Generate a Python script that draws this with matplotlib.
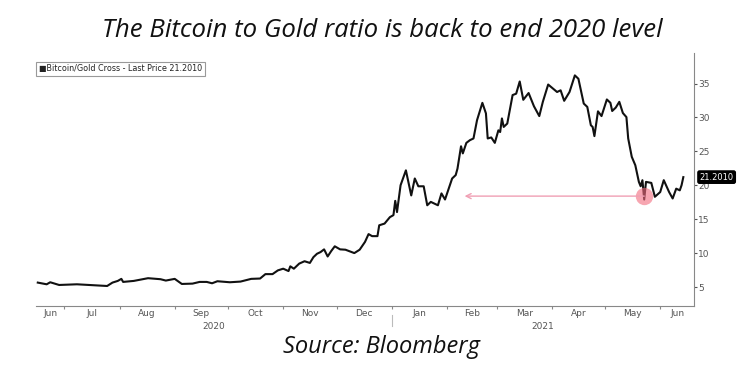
import matplotlib
matplotlib.use("Agg")
import matplotlib.pyplot as plt
import matplotlib.dates as mdates
import matplotlib.transforms as mtransforms
import numpy as np
import pandas as pd

# ---------------- data ----------------
dates = [
    "2020-06-16", "2020-06-21", "2020-06-23", "2020-06-28", "2020-07-08", "2020-07-25",
    "2020-07-28", "2020-07-31", "2020-08-02", "2020-08-03", "2020-08-09", "2020-08-17",
    "2020-08-24", "2020-08-27", "2020-09-01", "2020-09-05", "2020-09-11", "2020-09-15",
    "2020-09-19", "2020-09-22", "2020-09-25", "2020-10-02", "2020-10-08", "2020-10-14",
    "2020-10-19", "2020-10-22", "2020-10-26", "2020-10-29", "2020-11-01", "2020-11-04",
    "2020-11-05", "2020-11-07", "2020-11-10", "2020-11-13", "2020-11-16", "2020-11-18",
    "2020-11-20", "2020-11-22", "2020-11-24", "2020-11-26", "2020-11-28", "2020-11-30",
    "2020-12-03", "2020-12-06", "2020-12-08", "2020-12-11", "2020-12-14", "2020-12-17",
    "2020-12-19", "2020-12-21", "2020-12-24", "2020-12-25", "2020-12-28", "2020-12-31",
    "2021-01-02", "2021-01-03", "2021-01-04", "2021-01-06", "2021-01-09", "2021-01-11",
    "2021-01-12", "2021-01-14", "2021-01-16", "2021-01-19", "2021-01-21", "2021-01-23",
    "2021-01-25", "2021-01-27", "2021-01-29", "2021-01-31", "2021-02-04", "2021-02-06",
    "2021-02-07", "2021-02-09", "2021-02-10", "2021-02-12", "2021-02-14", "2021-02-16",
    "2021-02-18", "2021-02-21", "2021-02-23", "2021-02-24", "2021-02-26", "2021-02-28",
    "2021-03-02", "2021-03-03", "2021-03-04", "2021-03-05", "2021-03-07", "2021-03-10",
    "2021-03-12", "2021-03-14", "2021-03-16", "2021-03-19", "2021-03-22", "2021-03-25",
    "2021-03-27", "2021-03-30", "2021-04-04", "2021-04-06", "2021-04-08", "2021-04-11",
    "2021-04-14", "2021-04-16", "2021-04-19", "2021-04-21", "2021-04-23", "2021-04-24",
    "2021-04-25", "2021-04-27", "2021-04-29", "2021-05-02", "2021-05-04", "2021-05-05",
    "2021-05-07", "2021-05-09", "2021-05-11", "2021-05-13", "2021-05-14", "2021-05-16",
    "2021-05-18", "2021-05-20", "2021-05-21", "2021-05-22", "2021-05-23", "2021-05-24",
    "2021-05-27", "2021-05-29", "2021-06-01", "2021-06-03", "2021-06-06", "2021-06-08",
    "2021-06-10", "2021-06-12", "2021-06-13", "2021-06-14",
]
ratio = [
    5.65, 5.4, 5.7, 5.3, 5.4, 5.15,
    5.65, 5.9, 6.2, 5.75, 5.9, 6.3,
    6.15, 5.95, 6.2, 5.45, 5.5, 5.75,
    5.75, 5.55, 5.85, 5.7, 5.8, 6.2,
    6.25, 6.9, 6.9, 7.45, 7.7, 7.35,
    8.05, 7.7, 8.45, 8.8, 8.55, 9.4,
    9.9, 10.15, 10.55, 9.5, 10.3, 11.0,
    10.55, 10.5, 10.3, 10.0, 10.5, 11.65,
    12.8, 12.5, 12.5, 14.1, 14.35, 15.3,
    15.6, 17.7, 16.05, 20.0, 22.2, 19.75,
    18.5, 21.0, 19.85, 19.85, 17.05, 17.55,
    17.3, 17.05, 18.8, 17.9, 21.0, 21.5,
    22.45, 25.75, 24.7, 26.25, 26.65, 26.9,
    29.6, 32.15, 30.6, 26.9, 27.05, 26.25,
    28.1, 27.85, 29.85, 28.6, 29.1, 33.3,
    33.5, 35.3, 32.6, 33.6, 31.65, 30.2,
    32.3, 34.85, 33.75, 34.0, 32.45, 33.75,
    36.2, 35.7, 32.05, 31.55, 28.85, 28.6,
    27.25, 30.9, 30.2, 32.65, 32.15, 30.95,
    31.45, 32.3, 30.65, 30.05, 26.9, 24.2,
    22.95, 20.5, 19.85, 20.75, 17.9, 20.5,
    20.35, 18.3, 19.0, 20.75, 19.0, 18.05,
    19.5, 19.25, 20.0, 21.2,
]
last_price = 21.2010
y_ticks = [5, 10, 15, 20, 25, 30, 35]
month_labels = ["Jun", "Jul", "Aug", "Sep", "Oct", "Nov", "Dec",
                "Jan", "Feb", "Mar", "Apr", "May", "Jun"]
year_labels = ["2020", "2021"]
highlight_date = "2021-05-23"
highlight_level = 18.4
arrow_end_date = "2021-02-11"
title_text = "The Bitcoin to Gold ratio is back to end 2020 level"
source_text = "Source: Bloomberg"
legend_text = "Bitcoin/Gold Cross - Last Price 21.2010"

# ---------------- figure ----------------
x = pd.to_datetime(dates)
xmin, xmax = pd.Timestamp("2020-06-15"), pd.Timestamp("2021-06-20")

fig = plt.figure(figsize=(7.42, 3.69), dpi=100)
ax = fig.add_axes([36 / 742, 1 - 306 / 369, (694 - 36) / 742, (306 - 53) / 369])

ax.plot(x, ratio, color="#111111", lw=1.5, solid_joinstyle="round")
ax.set_xlim(xmin, xmax)
ax.set_ylim(2.2, 39.5)

# spines
for s in ["top", "left"]:
    ax.spines[s].set_visible(False)
for s in ["bottom", "right"]:
    ax.spines[s].set_color("#888888")
    ax.spines[s].set_linewidth(0.8)

# y axis on right
ax.yaxis.tick_right()
ax.set_yticks(y_ticks)
ax.tick_params(axis="y", direction="out", length=2, width=0.8, color="#555555",
               labelsize=6.5, labelcolor="#555555", pad=1)

# x axis: ticks at month starts, labels centred in each visible month
month_starts = pd.date_range("2020-07-01", "2021-06-01", freq="MS")
ax.set_xticks(month_starts)
ax.set_xticklabels([])
ax.tick_params(axis="x", which="major", direction="out", length=2, width=0.8,
               color="#888888")
edges = [xmin] + list(month_starts) + [xmax]
centres = [edges[i] + (edges[i + 1] - edges[i]) / 2 for i in range(len(edges) - 1)]
ax.set_xticks(centres, minor=True)
ax.set_xticklabels(month_labels, minor=True)
ax.tick_params(axis="x", which="minor", length=0, labelsize=6.5,
               labelcolor="#555555", pad=2)

trans = mtransforms.blended_transform_factory(ax.transData, ax.transAxes)
jan1 = pd.Timestamp("2021-01-01")
ax.text(xmin + (jan1 - xmin) / 2, -0.065, year_labels[0], transform=trans,
        ha="center", va="top", fontsize=6.5, color="#555555")
ax.text(jan1 + (xmax - jan1) / 2, -0.065, year_labels[1], transform=trans,
        ha="center", va="top", fontsize=6.5, color="#555555")
ax.plot([jan1, jan1], [-0.035, -0.08], transform=trans, color="#bbbbbb",
        lw=0.8, clip_on=False)

# last price tag
ax.annotate(f"{last_price:.4f}", xy=(1.0, last_price),
            xycoords=("axes fraction", "data"), xytext=(4, 0),
            textcoords="offset points", ha="left", va="center",
            fontsize=6, color="white",
            bbox=dict(boxstyle="round,pad=0.2", fc="black", ec="black"),
            annotation_clip=False)

# highlight circle and arrow
hd = pd.Timestamp(highlight_date)
ax.annotate("", xy=(pd.Timestamp(arrow_end_date), highlight_level),
            xytext=(hd, highlight_level),
            arrowprops=dict(arrowstyle="->", color="#f0a0b4", lw=1.0,
                            shrinkA=0, shrinkB=0, mutation_scale=9))
ax.plot([hd], [highlight_level], marker="o", markersize=12.5, color="#f26b7d",
        alpha=0.6, markeredgewidth=0)

# legend box
ax.text(0.004, 0.937, "\u25a0" + legend_text, transform=ax.transAxes,
        ha="left", va="center", fontsize=5.8, color="#222222",
        family="DejaVu Sans",
        bbox=dict(boxstyle="square,pad=0.35", fc="white", ec="#999999", lw=0.8))

# title / source
fig.text(0.515, 1 - 37 / 369, title_text, ha="center", va="baseline", fontsize=18.5,
         style="italic", family="Open Sans", color="#111111")
fig.text(0.514, 1 - 353 / 369, source_text, ha="center", va="baseline", fontsize=17,
         style="italic", family="Open Sans", color="#111111")

fig.savefig("out.png", dpi=100, facecolor="white")
